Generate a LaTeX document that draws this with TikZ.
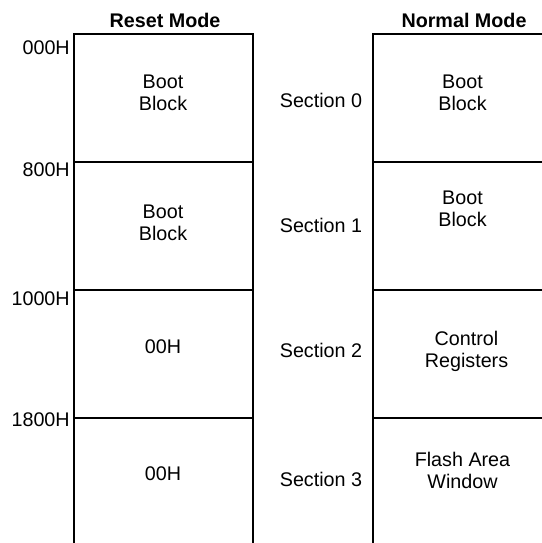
\documentclass[tikz,border=0pt]{standalone}
\usepackage{fontspec}
\setmainfont{Liberation Sans}
\begin{document}
\begin{tikzpicture}[x=0.75pt,y=-0.75pt,
  lbl/.style={font=\fontsize{14.8}{16.5}\selectfont, inner sep=0pt, align=center},
  hdr/.style={inner sep=0pt, font=\fontsize{14.8}{16.5}\selectfont\bfseries},
  addr/.style={lbl, anchor=east},
  ln/.style={line width=0.8pt, black}]
\useasboundingbox (0,0) rectangle (542,543);
% coordinates of the two memory maps
\coordinate (LTL) at (74,34);  \coordinate (LTR) at (253,34);
\coordinate (LBL) at (74,543); \coordinate (LBR) at (253,543);
\coordinate (L1l) at (74,162); \coordinate (L1r) at (253,162);
\coordinate (L2l) at (74,290); \coordinate (L2r) at (253,290);
\coordinate (L3l) at (74,418); \coordinate (L3r) at (253,418);
\coordinate (RTL) at (373,34);  \coordinate (RTR) at (542,34);
\coordinate (RBL) at (373,543);
\coordinate (R1l) at (373,162); \coordinate (R1r) at (542,162);
\coordinate (R2l) at (373,290); \coordinate (R2r) at (542,290);
\coordinate (R3l) at (373,418); \coordinate (R3r) at (542,418);
% reset mode map
\draw[ln] (LBL) -- (LTL) -- (LTR) -- (LBR);
\draw[ln] (L1l) -- (L1r);
\draw[ln] (L2l) -- (L2r);
\draw[ln] (L3l) -- (L3r);
% normal mode map
\draw[ln] (RBL) -- (RTL) -- (RTR);
\draw[ln] (R1l) -- (R1r);
\draw[ln] (R2l) -- (R2r);
\draw[ln] (R3l) -- (R3r);
% headers
\node[hdr] (hreset) at (165,20) {Reset Mode};
\node[hdr] (hnormal) at (464,20) {Normal Mode};
% addresses
\node[addr] (a0) at (70,47.5) {000H};
\node[addr] (a1) at (70,169.5) {800H};
\node[addr] (a2) at (70,298.5) {1000H};
\node[addr] (a3) at (70,420) {1800H};
% reset mode contents
\node[lbl] (r0) at (163,92.5) {Boot\\Block};
\node[lbl] (r1) at (163,222.5) {Boot\\Block};
\node[lbl] (r2) at (163,346.5) {00H};
\node[lbl] (r3) at (163,473.5) {00H};
% sections
\node[lbl] (s0) at (321,100) {Section 0};
\node[lbl] (s1) at (321,225.5) {Section 1};
\node[lbl] (s2) at (321,350) {Section 2};
\node[lbl] (s3) at (321,479) {Section 3};
% normal mode contents
\node[lbl] (n0) at (462.5,92.5) {Boot\\Block};
\node[lbl] (n1) at (462.5,208.5) {Boot\\Block};
\node[lbl] (n2) at (466.5,351) {Control\\Registers};
\node[lbl] (n3) at (462.5,470.5) {Flash Area\\Window};
\end{tikzpicture}
\end{document}
